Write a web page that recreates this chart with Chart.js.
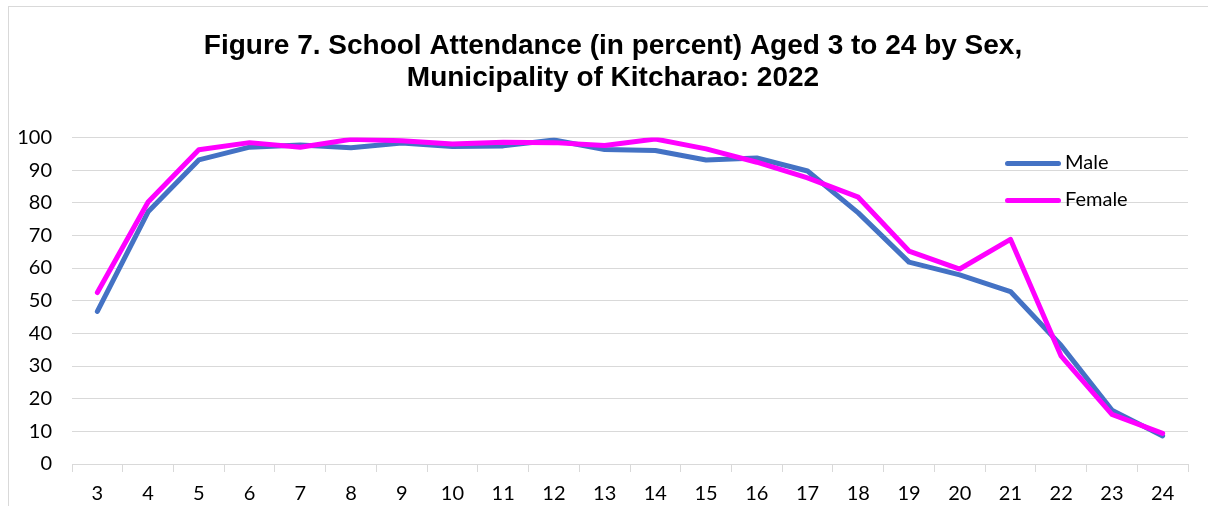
<!DOCTYPE html>
<html>
<head>
<meta charset="utf-8">
<script src="https://cdn.jsdelivr.net/npm/chart.js@4.4.0/dist/chart.umd.min.js"></script>
<style>
  body { margin: 0; background: #fff; }
  #wrap { position: relative; width: 1208px; height: 506px; overflow: hidden; }
  #frame { position: absolute; left: 8px; top: 6px; width: 1220px; height: 520px;
    border-left: 1px solid #d9d9d9; border-top: 1px solid #d9d9d9; }
  canvas { position: absolute; left: 0; top: 0; }
  .leg { position: absolute; left: 1005px; font: 20px Lato, sans-serif; color: #000; }
  .leg span { display: inline-block; width: 56px; height: 5px; border-radius: 3px; vertical-align: middle; margin-right: 4px; }
</style>
</head>
<body>
<div id="wrap">
  <div id="frame"></div>
  <canvas id="chart" width="1208" height="506"></canvas>
  <div class="leg" style="top:149px"><span style="background:#4472C4"></span>Male</div>
  <div class="leg" style="top:186px"><span style="background:#FF00FF"></span>Female</div>
</div>
<script>
const ages = ['3','4','5','6','7','8','9','10','11','12','13','14','15','16','17','18','19','20','21','22','23','24'];
const male = [46.7, 77.2, 93.1, 97.0, 97.7, 96.8, 98.3, 97.2, 97.4, 99.2, 96.3, 96.0, 93.1, 93.7, 89.7, 76.9, 61.8, 57.9, 52.8, 36.3, 16.5, 8.6];
const female = [52.5, 80.2, 96.2, 98.4, 97.0, 99.4, 99.0, 98.0, 98.5, 98.4, 97.5, 99.5, 96.5, 92.4, 87.6, 81.7, 65.2, 59.7, 68.8, 33.0, 15.2, 9.4];
const yTicks = [0, 10, 20, 30, 40, 50, 60, 70, 80, 90, 100];

const tickFont = { family: 'Lato, sans-serif', size: 20 };

// nudge the title block so it is centred a bit right of the canvas middle, like the reference
const shiftTitle = {
  id: 'shiftTitle',
  afterLayout: chart => { if (chart.titleBlock) chart.titleBlock.left += 38; }
};

const ctx = document.getElementById('chart').getContext('2d');
// eslint-disable-next-line
const chart = new Chart(ctx, {
  type: 'line',
  data: {
    labels: ages,
    datasets: [
      { label: 'Male', data: male, borderColor: '#4472C4', backgroundColor: '#4472C4', borderWidth: 5, pointRadius: 0, tension: 0, borderJoinStyle: 'round', borderCapStyle: 'round', order: 2 },
      { label: 'Female', data: female, borderColor: '#FF00FF', backgroundColor: '#FF00FF', borderWidth: 5, pointRadius: 0, tension: 0, borderJoinStyle: 'round', borderCapStyle: 'round', order: 1 }
    ]
  },
  options: {
    responsive: false,
    animation: false,
    layout: { padding: { left: 0, right: 20, top: 0, bottom: 0 } },
    plugins: {
      legend: { display: false },
      tooltip: { enabled: false },
      title: {
        display: true,
        text: ['Figure 7. School Attendance (in percent) Aged 3 to 24 by Sex,', 'Municipality of Kitcharao: 2022'],
        color: '#000',
        font: { family: '"Liberation Sans", Arial, sans-serif', size: 28, weight: 'bold', lineHeight: 1.15 },
        padding: { top: 30, bottom: 43 }
      }
    },
    scales: {
      x: {
        offset: true,
        grid: { offset: true, drawOnChartArea: false, drawTicks: true, tickLength: 8, color: '#d9d9d9' },
        border: { display: true, color: '#d9d9d9', width: 1 },
        ticks: { color: '#000', font: tickFont, padding: 10, maxRotation: 0, autoSkip: false },
        afterFit: s => { s.height = 42; }
      },
      y: {
        min: 0,
        max: 100,
        afterBuildTicks: s => { s.ticks = yTicks.map(v => ({ value: v })); },
        grid: { color: '#d9d9d9', drawTicks: false },
        border: { display: false },
        ticks: { color: '#000', font: tickFont, padding: 20 },
        afterFit: s => { s.width = 72; }
      }
    }
  },
  plugins: [shiftTitle]
});
</script>
</body>
</html>
